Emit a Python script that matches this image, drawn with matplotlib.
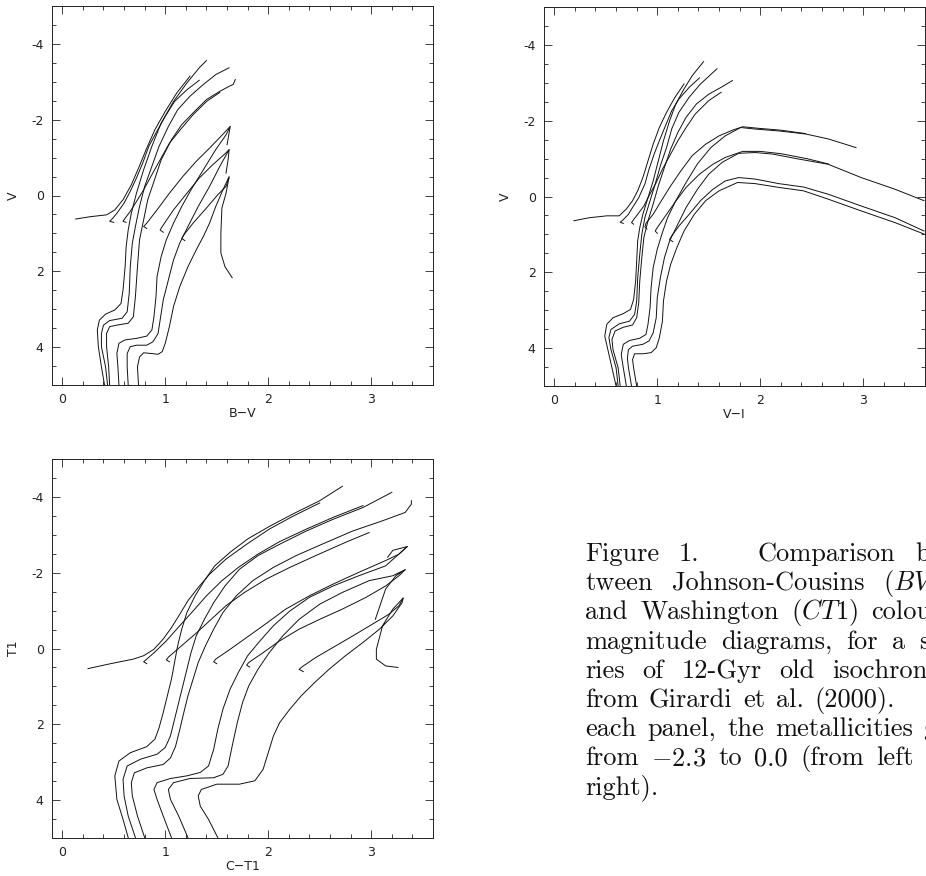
import matplotlib
matplotlib.use("Agg")
import matplotlib.pyplot as plt
from matplotlib.ticker import MultipleLocator

plt.rcParams['mathtext.fontset'] = 'cm'
plt.rcParams['axes.unicode_minus'] = False

# 12 Gyr isochrones, [Fe/H] from -2.3 (1) to 0.0 (6)
# rgb = MS + subgiant + RGB, hb = HB + AGB

# ---- B-V, V
bv_rgb1 = [(0.41,5.0),(0.38,4.52),(0.35,3.99),(0.34,3.55),(0.36,3.29),(0.42,3.13),(0.51,3.02),(0.57,2.85),(0.59,2.49),(0.61,1.88),(0.62,1.35),(0.64,0.91),(0.67,0.47),(0.72,-0.06),(0.79,-0.68),(0.87,-1.30),(0.96,-1.91),(1.08,-2.48),(1.21,-2.97),(1.33,-3.37),(1.40,-3.56)]
bv_hb1 = [(0.13,0.62),(0.27,0.56),(0.43,0.51),(0.51,0.38),(0.59,0.11),(0.67,-0.28),(0.74,-0.72),(0.82,-1.25),(0.90,-1.74),(1.00,-2.22),(1.11,-2.70),(1.24,-3.15)]
bv_rgb2 = [(0.44,5.0),(0.42,4.52),(0.38,3.99),(0.38,3.64),(0.40,3.42),(0.46,3.30),(0.58,3.24),(0.63,3.07),(0.65,2.58),(0.66,1.88),(0.68,1.26),(0.71,0.82),(0.75,0.29),(0.80,-0.24),(0.87,-0.77),(0.94,-1.30),(1.03,-1.82),(1.12,-2.26),(1.24,-2.62),(1.37,-2.93),(1.49,-3.19),(1.62,-3.37)]
bv_hb2 = [(0.50,0.71),(0.46,0.68),(0.49,0.60),(0.53,0.47),(0.60,0.20),(0.66,-0.11),(0.72,-0.46),(0.78,-0.85),(0.84,-1.30),(0.92,-1.70),(1.00,-2.09),(1.09,-2.48),(1.21,-2.79),(1.33,-3.04)]
bv_rgb3 = [(0.46,5.0),(0.45,4.52),(0.43,3.99),(0.43,3.64),(0.46,3.46),(0.53,3.42),(0.64,3.37),(0.69,3.20),(0.71,2.67),(0.73,1.88),(0.75,1.17),(0.79,0.64),(0.83,0.11),(0.89,-0.37),(0.96,-0.94),(1.06,-1.47),(1.16,-1.87),(1.27,-2.18),(1.40,-2.53),(1.53,-2.75),(1.62,-2.88),(1.66,-2.93),(1.68,-3.06)]
bv_hb3 = [(0.62,0.71),(0.59,0.68),(0.61,0.60),(0.66,0.42),(0.72,0.16),(0.79,-0.15),(0.87,-0.55),(0.95,-0.94),(1.04,-1.38),(1.16,-1.78),(1.27,-2.13),(1.40,-2.48),(1.53,-2.72)]
bv_rgb4 = [(0.55,5.0),(0.54,4.52),(0.53,4.17),(0.55,3.90),(0.61,3.81),(0.72,3.77),(0.82,3.71),(0.87,3.55),(0.89,3.20),(0.91,2.67),(0.92,2.14),(0.96,1.61),(1.01,1.17),(1.08,0.73),(1.16,0.29),(1.25,-0.15),(1.37,-0.68),(1.49,-1.21),(1.59,-1.60),(1.63,-1.82),(1.62,-1.65),(1.60,-1.34)]
bv_hb4 = [(0.82,0.87),(0.79,0.82),(0.82,0.73),(0.92,0.38),(1.04,-0.06),(1.17,-0.50),(1.30,-0.90),(1.43,-1.25),(1.54,-1.56),(1.63,-1.82)]
bv_rgb5 = [(0.64,5.0),(0.63,4.52),(0.63,4.17),(0.66,3.99),(0.72,3.95),(0.82,3.95),(0.88,3.86),(0.93,3.64),(0.95,3.29),(0.98,2.76),(1.03,2.23),(1.08,1.70),(1.14,1.26),(1.22,0.82),(1.32,0.29),(1.43,-0.24),(1.53,-0.77),(1.62,-1.21),(1.61,-0.94),(1.59,-0.59)]
bv_hb5 = [(0.98,0.97),(0.95,0.91),(0.97,0.82),(1.08,0.38),(1.21,-0.06),(1.33,-0.46),(1.46,-0.81),(1.58,-1.10),(1.62,-1.21)]
bv_rgb6 = [(0.74,5.0),(0.73,4.52),(0.75,4.26),(0.79,4.15),(0.87,4.17),(0.93,4.19),(0.97,4.12),(1.00,3.90),(1.04,3.46),(1.08,2.93),(1.14,2.41),(1.22,1.88),(1.30,1.44),(1.37,1.08),(1.43,0.73),(1.49,0.29),(1.56,-0.15),(1.62,-0.50),(1.59,-0.06),(1.55,0.33),(1.54,1.00),(1.54,1.52),(1.58,1.88),(1.65,2.17)]
bv_hb6 = [(1.19,1.19),(1.16,1.13),(1.18,1.04),(1.27,0.73),(1.40,0.33),(1.51,-0.02),(1.59,-0.24),(1.62,-0.46)]

# ---- V-I, V
vi_rgb1 = [(0.60,5.0),(0.56,4.52),(0.52,4.04),(0.49,3.68),(0.51,3.37),(0.57,3.20),(0.67,3.09),(0.74,2.98),(0.77,2.72),(0.79,2.23),(0.80,1.70),(0.81,1.17),(0.83,0.82),(0.86,0.47),(0.91,0.03),(0.96,-0.41),(1.01,-0.94),(1.06,-1.47),(1.12,-2.00),(1.18,-2.44),(1.26,-2.84),(1.34,-3.19),(1.45,-3.56)]
vi_hb1 = [(0.19,0.64),(0.34,0.56),(0.51,0.51),(0.63,0.51),(0.70,0.33),(0.76,0.11),(0.81,-0.15),(0.86,-0.50),(0.91,-0.94),(0.96,-1.38),(1.02,-1.82),(1.09,-2.22),(1.17,-2.61),(1.26,-2.97)]
vi_rgb2 = [(0.62,5.0),(0.60,4.52),(0.55,4.04),(0.53,3.72),(0.55,3.51),(0.63,3.36),(0.73,3.29),(0.78,3.11),(0.80,2.76),(0.81,2.14),(0.83,1.52),(0.85,1.00),(0.88,0.55),(0.93,0.11),(0.98,-0.33),(1.03,-0.81),(1.09,-1.29),(1.14,-1.78),(1.21,-2.22),(1.31,-2.62),(1.42,-2.97),(1.58,-3.37)]
vi_hb2 = [(0.67,0.71),(0.64,0.68),(0.67,0.61),(0.72,0.47),(0.76,0.29),(0.82,0.03),(0.88,-0.33),(0.92,-0.72),(0.97,-1.12),(1.02,-1.47),(1.08,-1.87),(1.14,-2.26),(1.21,-2.57),(1.31,-2.88),(1.41,-3.13)]
vi_rgb3 = [(0.64,5.0),(0.62,4.52),(0.57,4.04),(0.56,3.77),(0.59,3.55),(0.67,3.45),(0.76,3.39),(0.80,3.20),(0.82,2.80),(0.83,2.23),(0.85,1.61),(0.87,1.08),(0.91,0.64),(0.96,0.20),(1.01,-0.28),(1.07,-0.77),(1.13,-1.25),(1.20,-1.69),(1.28,-2.09),(1.38,-2.44),(1.50,-2.70),(1.62,-2.88),(1.73,-3.06)]
vi_hb3 = [(0.77,0.73),(0.75,0.69),(0.77,0.61),(0.81,0.47),(0.87,0.25),(0.92,-0.02),(0.99,-0.37),(1.05,-0.72),(1.12,-1.07),(1.20,-1.47),(1.28,-1.82),(1.37,-2.18),(1.50,-2.53),(1.62,-2.75)]
vi_rgb4 = [(0.70,5.0),(0.67,4.52),(0.65,4.17),(0.67,3.90),(0.73,3.80),(0.83,3.74),(0.89,3.64),(0.91,3.37),(0.93,2.93),(0.94,2.41),(0.96,1.88),(1.00,1.39),(1.05,0.95),(1.10,0.56),(1.18,0.11),(1.28,-0.37),(1.39,-0.86),(1.52,-1.29),(1.66,-1.60),(1.81,-1.82),(1.95,-1.78),(2.18,-1.73),(2.44,-1.65),(2.66,-1.52),(2.93,-1.29)]
vi_hb4 = [(0.90,0.86),(0.88,0.80),(0.89,0.71),(0.96,0.47),(1.04,0.11),(1.13,-0.28),(1.23,-0.68),(1.34,-1.08),(1.47,-1.38),(1.60,-1.60),(1.73,-1.75),(1.83,-1.84),(1.98,-1.80),(2.20,-1.75),(2.44,-1.66)]
vi_rgb5 = [(0.75,5.0),(0.72,4.52),(0.71,4.26),(0.72,4.04),(0.76,3.95),(0.86,3.90),(0.92,3.81),(0.96,3.60),(0.99,3.20),(1.00,2.67),(1.03,2.14),(1.07,1.61),(1.12,1.17),(1.20,0.73),(1.28,0.29),(1.39,-0.19),(1.50,-0.59),(1.63,-0.90),(1.79,-1.14),(1.95,-1.16),(2.12,-1.12),(2.37,-0.99),(2.66,-0.85),(2.98,-0.50),(3.31,-0.19),(3.59,0.11)]
vi_hb5 = [(1.00,0.97),(0.98,0.91),(1.00,0.82),(1.07,0.55),(1.17,0.16),(1.28,-0.24),(1.41,-0.59),(1.54,-0.85),(1.66,-1.03),(1.83,-1.19),(2.00,-1.19),(2.20,-1.13),(2.45,-1.00),(2.66,-0.86)]
vi_rgb6 = [(0.80,5.0),(0.77,4.52),(0.76,4.30),(0.78,4.15),(0.86,4.15),(0.94,4.12),(0.99,3.99),(1.02,3.73),(1.05,3.29),(1.06,2.76),(1.09,2.23),(1.13,1.79),(1.19,1.35),(1.26,0.91),(1.36,0.47),(1.47,0.11),(1.60,-0.15),(1.78,-0.37),(1.95,-0.34),(2.18,-0.24),(2.42,-0.15),(2.66,0.07),(2.98,0.38),(3.31,0.69),(3.59,0.99)]
vi_hb6 = [(1.15,1.19),(1.12,1.13),(1.14,1.04),(1.21,0.78),(1.31,0.47),(1.42,0.11),(1.54,-0.19),(1.66,-0.41),(1.79,-0.50),(1.95,-0.46),(2.18,-0.34),(2.42,-0.25),(2.66,-0.06),(2.98,0.25),(3.31,0.56),(3.59,0.91)]

# ---- C-T1, T1
ct_rgb1 = [(0.64,4.99),(0.59,4.51),(0.53,3.98),(0.51,3.36),(0.55,2.97),(0.66,2.75),(0.82,2.59),(0.90,2.39),(0.94,2.09),(0.98,1.69),(1.02,1.25),(1.06,0.81),(1.09,0.37),(1.12,-0.07),(1.16,-0.51),(1.21,-0.95),(1.29,-1.39),(1.38,-1.79),(1.48,-2.18),(1.63,-2.54),(1.80,-2.89),(2.01,-3.22),(2.24,-3.55),(2.50,-3.90),(2.72,-4.28)]
ct_hb1 = [(0.25,0.53),(0.47,0.40),(0.69,0.28),(0.79,0.19),(0.89,0.02),(0.98,-0.25),(1.06,-0.55),(1.14,-0.90),(1.22,-1.26),(1.32,-1.61),(1.43,-1.96),(1.59,-2.36),(1.79,-2.75),(2.01,-3.15),(2.24,-3.49),(2.50,-3.84)]
ct_rgb2 = [(0.71,4.99),(0.64,4.42),(0.60,3.89),(0.59,3.45),(0.63,3.10),(0.76,2.92),(0.92,2.79),(1.00,2.61),(1.05,2.31),(1.09,1.87),(1.13,1.43),(1.17,0.99),(1.21,0.55),(1.25,0.11),(1.30,-0.33),(1.38,-0.77),(1.47,-1.21),(1.58,-1.65),(1.72,-2.09),(1.90,-2.45),(2.11,-2.75),(2.37,-3.10),(2.63,-3.41),(2.92,-3.72),(3.20,-4.12)]
ct_hb2 = [(0.82,0.40),(0.79,0.35),(0.82,0.28),(0.90,0.09),(1.01,-0.20),(1.14,-0.60),(1.27,-0.99),(1.40,-1.39),(1.55,-1.79),(1.71,-2.14),(1.90,-2.49),(2.11,-2.82),(2.37,-3.15),(2.63,-3.46),(2.92,-3.77)]
ct_rgb3 = [(0.80,4.99),(0.73,4.42),(0.68,3.89),(0.67,3.54),(0.70,3.28),(0.82,3.15),(0.98,3.06),(1.05,2.89),(1.10,2.58),(1.14,2.15),(1.18,1.69),(1.22,1.25),(1.27,0.81),(1.32,0.37),(1.39,-0.07),(1.47,-0.51),(1.56,-0.95),(1.69,-1.39),(1.85,-1.79),(2.05,-2.14),(2.27,-2.45),(2.53,-2.76),(2.82,-3.10),(3.11,-3.37),(3.33,-3.59),(3.39,-3.81),(3.39,-3.90)]
ct_hb3 = [(1.04,0.35),(1.01,0.30),(1.03,0.23),(1.14,-0.03),(1.29,-0.38),(1.43,-0.73),(1.59,-1.13),(1.77,-1.48),(1.98,-1.83),(2.21,-2.14),(2.46,-2.45),(2.75,-2.80),(2.98,-3.06)]
ct_rgb4 = [(1.06,4.99),(0.98,4.42),(0.92,3.98),(0.89,3.72),(0.92,3.54),(1.05,3.43),(1.21,3.36),(1.34,3.27),(1.42,3.10),(1.47,2.66),(1.51,2.13),(1.56,1.60),(1.63,1.07),(1.71,0.63),(1.80,0.19),(1.92,-0.20),(2.05,-0.60),(2.21,-0.99),(2.40,-1.35),(2.63,-1.65),(2.88,-1.92),(3.14,-2.18),(3.35,-2.69),(3.21,-2.59),(3.16,-2.41)]
ct_hb4 = [(1.50,0.40),(1.47,0.35),(1.49,0.28),(1.63,0.02),(1.79,-0.29),(1.97,-0.64),(2.17,-1.04),(2.40,-1.39),(2.63,-1.70),(2.88,-2.01),(3.14,-2.32),(3.27,-2.49),(3.35,-2.69)]
ct_rgb5 = [(1.22,4.99),(1.13,4.42),(1.05,3.98),(1.03,3.72),(1.08,3.54),(1.24,3.43),(1.47,3.41),(1.56,3.32),(1.61,3.10),(1.65,2.57),(1.70,1.95),(1.75,1.43),(1.81,0.99),(1.90,0.55),(2.01,0.11),(2.14,-0.33),(2.30,-0.77),(2.50,-1.17),(2.72,-1.48),(2.98,-1.79),(3.21,-1.92),(3.33,-2.08),(3.24,-1.92),(3.14,-1.57),(3.04,-0.77)]
ct_hb5 = [(1.82,0.49),(1.79,0.44),(1.81,0.37),(1.95,0.11),(2.11,-0.20),(2.30,-0.51),(2.50,-0.77),(2.72,-1.04),(2.95,-1.35),(3.14,-1.65),(3.27,-1.92),(3.33,-2.08)]
ct_rgb6 = [(1.51,4.99),(1.42,4.51),(1.34,4.16),(1.32,3.89),(1.35,3.72),(1.50,3.58),(1.72,3.58),(1.87,3.49),(1.95,3.19),(2.00,2.75),(2.05,2.31),(2.11,1.96),(2.21,1.60),(2.32,1.25),(2.45,0.90),(2.59,0.55),(2.75,0.19),(2.92,-0.16),(3.08,-0.51),(3.21,-0.86),(3.30,-1.21),(3.31,-1.33),(3.21,-1.04),(3.11,-0.60),(3.05,0.02),(3.05,0.28),(3.14,0.46),(3.26,0.50)]
ct_hb6 = [(2.34,0.61),(2.30,0.55),(2.33,0.48),(2.46,0.24),(2.63,-0.03),(2.82,-0.33),(3.01,-0.64),(3.17,-0.90),(3.27,-1.13),(3.31,-1.33)]

bv_branches = [bv_rgb1, bv_hb1, bv_rgb2, bv_hb2, bv_rgb3, bv_hb3, bv_rgb4, bv_hb4, bv_rgb5, bv_hb5, bv_rgb6, bv_hb6]
vi_branches = [vi_rgb1, vi_hb1, vi_rgb2, vi_hb2, vi_rgb3, vi_hb3, vi_rgb4, vi_hb4, vi_rgb5, vi_hb5, vi_rgb6, vi_hb6]
ct_branches = [ct_rgb1, ct_hb1, ct_rgb2, ct_hb2, ct_rgb3, ct_hb3, ct_rgb4, ct_hb4, ct_rgb5, ct_hb5, ct_rgb6, ct_hb6]

caption = ["Figure 1.   Comparison be-",
           "tween Johnson-Cousins ($BVI$)",
           "and Washington ($CT$1) colour-",
           "magnitude diagrams, for a se-",
           "ries of 12-Gyr old isochrones",
           "from Girardi et al. (2000). In",
           "each panel, the metallicities go",
           "from $-$2.3 to 0.0 (from left to",
           "right)."]
sentence_ends = ["1.", "(2000)."]

W, H = 926, 876
fig = plt.figure(figsize=(W / 100, H / 100), dpi=100)


def panel(left, top, branches, xlab, ylab):
    # left/top in pixels, panel is 381 x 379 px
    ax = fig.add_axes([left / W, 1 - (top + 379) / H, 381 / W, 379 / H])
    for b in branches:
        xs, ys = zip(*b)
        ax.plot(xs, ys, color='#111111', lw=0.7)
    ax.set_xlim(-0.1, 3.6)
    ax.set_ylim(5, -5)
    ax.xaxis.set_major_locator(MultipleLocator(1))
    ax.xaxis.set_minor_locator(MultipleLocator(0.2))
    ax.yaxis.set_major_locator(MultipleLocator(2))
    ax.yaxis.set_minor_locator(MultipleLocator(0.5))
    ax.tick_params(which='both', direction='in', top=True, right=True,
                   width=0.6, colors='#222222', labelsize=9)
    ax.tick_params(which='major', length=6, pad=6)
    ax.tick_params(which='minor', length=3)
    for s in ax.spines.values():
        s.set_linewidth(0.7)
        s.set_color('#222222')
    ax.set_xlabel(xlab, fontsize=9, color='#222222')
    ax.set_ylabel(ylab, fontsize=9, color='#222222')
    ax.xaxis.set_label_coords(0.5, -0.075)
    ax.yaxis.set_label_coords(-0.10, 0.5)
    ax.xaxis.label.set_va('center')
    ax.yaxis.label.set_va('center')
    return ax


panel(52, 6, bv_branches, 'B\u2212V', 'V')
panel(544, 7, vi_branches, 'V\u2212I', 'V')
panel(52, 459, ct_branches, 'C\u2212T1', 'T1')

# caption, justified to a column that runs past the right edge;
# the space after a sentence stretches more, as in TeX
col_x, col_w = 585, 365
base0, skip = 561, 29.2
fig.canvas.draw()
rend = fig.canvas.get_renderer()
for i, line in enumerate(caption):
    words = line.split()
    texts = [fig.text(0, 0, w, fontfamily='cmr10', fontsize=19,
                      va='baseline', ha='left', color='#111111') for w in words]
    widths = [t.get_window_extent(renderer=rend).width for t in texts]
    weights = [3.0 if w in sentence_ends else 1.0 for w in words[:-1]]
    if i < len(caption) - 1:
        unit = (col_w - sum(widths)) / sum(weights)
    else:
        unit = 8.8
    x = col_x
    for j, (t, w) in enumerate(zip(texts, widths)):
        t.set_position((x / W, 1 - (base0 + skip * i) / H))
        if j < len(weights):
            x += w + unit * weights[j]

fig.savefig('out.png', dpi=100, facecolor='white')
